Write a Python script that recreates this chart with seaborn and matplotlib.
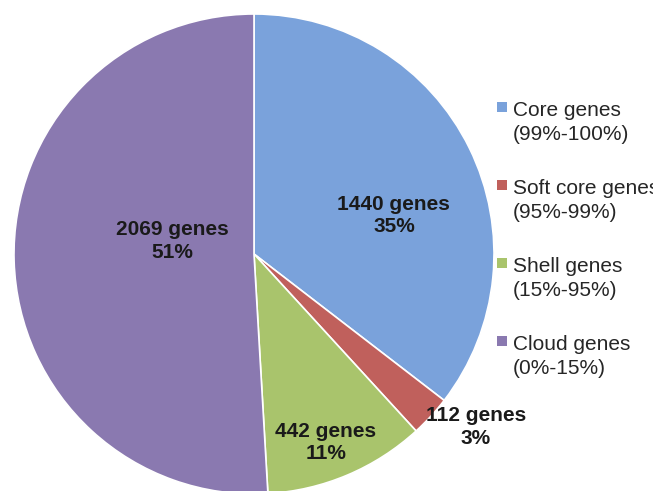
import matplotlib
matplotlib.use("Agg")
import matplotlib.pyplot as plt
import seaborn as sns
from matplotlib.patches import Rectangle

# Pan-genome partition of gene clusters
categories = ["Core genes", "Soft core genes", "Shell genes", "Cloud genes"]
ranges = ["(99%-100%)", "(95%-99%)", "(15%-95%)", "(0%-15%)"]
gene_counts = [1440, 112, 442, 2069]
colors = ["#7aa2db", "#c0605c", "#a9c46c", "#8a79b0"]

# label anchor points in pie units (centre = 0, radius = 1)
label_pos = [(0.583, 0.160), (0.925, -0.722), (0.300, -0.785), (-0.342, 0.055)]

sns.set_theme(style="white")
plt.rcParams["font.family"] = ["Liberation Sans", "DejaVu Sans"]

W, H = 653, 491
fig = plt.figure(figsize=(W / 100, H / 100), dpi=100)
fig.patch.set_facecolor("white")

# pie centre at (254, 254) px from top-left, radius 240 px
R = 240
cx, cy = 254, 254
ax = fig.add_axes([(cx - R) / W, (H - cy - R) / H, 2 * R / W, 2 * R / H])

palette = sns.color_palette(colors)
wedges, _ = ax.pie(
    gene_counts,
    colors=palette,
    startangle=90,
    counterclock=False,
    wedgeprops=dict(edgecolor="white", linewidth=1.2),
)
for w in wedges:
    w.set_clip_on(False)
ax.set_xlim(-1, 1)
ax.set_ylim(-1, 1)
ax.set_aspect("equal")
ax.axis("off")

total = sum(gene_counts)
for n, (x, y) in zip(gene_counts, label_pos):
    ax.text(x, y, f"{n} genes\n{round(100 * n / total)}%",
            ha="center", va="center", fontsize=15, fontweight="bold",
            color="#1a1a1a", linespacing=1.25)

# legend: small squares beside two-line entries
for i, (name, rng, col) in enumerate(zip(categories, ranges, palette)):
    base = 116 + 78 * i
    sq_cy = 107 + 78 * i
    fig.patches.append(Rectangle((497 / W, (H - sq_cy - 5) / H), 10 / W, 10 / H,
                                 transform=fig.transFigure, facecolor=col,
                                 edgecolor="none"))
    fig.text(513 / W, (H - base) / H, name, ha="left", va="baseline",
             fontsize=15, color="#262626")
    fig.text(513 / W, (H - base - 24) / H, rng, ha="left", va="baseline",
             fontsize=15, color="#262626")

fig.savefig("out.png", dpi=100, facecolor="white")
